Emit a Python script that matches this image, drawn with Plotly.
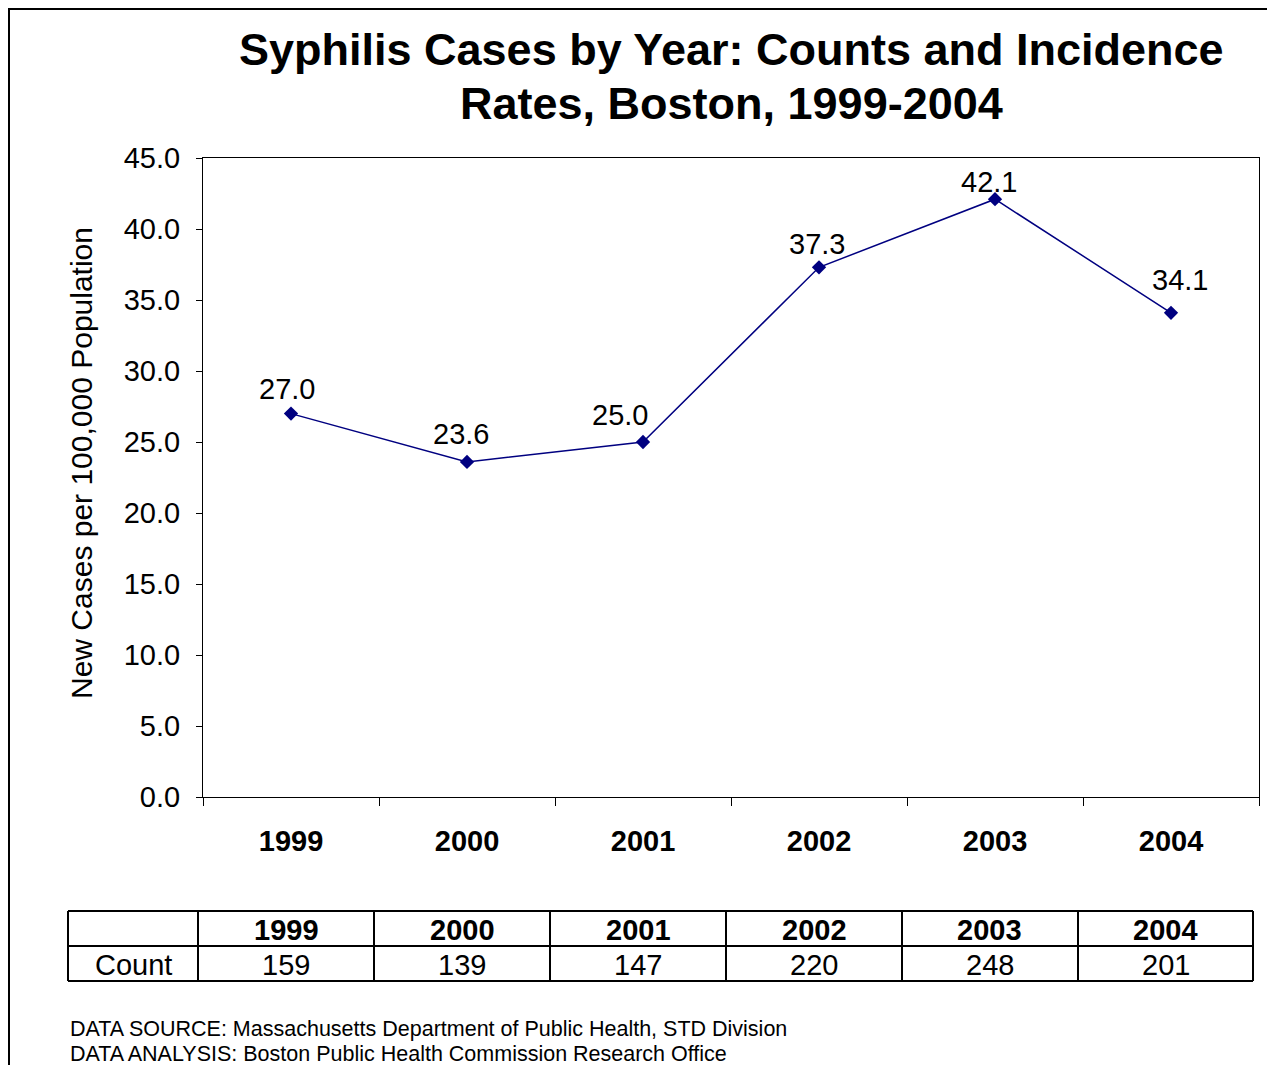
import plotly.graph_objects as go

years = ["1999", "2000", "2001", "2002", "2003", "2004"]
rates = [27.0, 23.6, 25.0, 37.3, 42.1, 34.1]
counts = [159, 139, 147, 220, 248, 201]
row_label = "Count"
title_lines = [
    "Syphilis Cases by Year: Counts and Incidence",
    "Rates, Boston, 1999-2004",
]
y_title = "New Cases per 100,000 Population"
footnotes = [
    "DATA SOURCE: Massachusetts Department of Public Health, STD Division",
    "DATA ANALYSIS: Boston Public Health Commission Research Office",
]

# style: pixel offsets of each data label from its marker (dx right, dy up)
label_dx = [-4, -6, -23, -2, -6, 9]
label_dy = [25, 28, 27, 23, 17, 33]

W, H = 1275, 1065
OFF = 8  # page body margin of the browser
FONT = "Arial, Liberation Sans, sans-serif"
NAVY = "#000080"


def px(x):
    return (x - OFF) / W


def py(y):
    return 1 - (y - OFF) / H


fig = go.Figure()
fig.add_trace(go.Scatter(
    x=years, y=rates,
    mode="lines+markers",
    line=dict(color=NAVY, width=1.5),
    marker=dict(symbol="diamond", size=11, color=NAVY),
    cliponaxis=False,
    showlegend=False,
))

shapes = []
annotations = []

# data labels (x given as category index on the category axis)
for i, v in enumerate(rates):
    annotations.append(dict(x=i, y=v, xref="x", yref="y", text=f"{v:.1f}",
                            showarrow=False, xanchor="center", yanchor="middle",
                            xshift=label_dx[i], yshift=label_dy[i],
                            font=dict(family=FONT, size=29, color="black")))

# outer frame
shapes.append(dict(type="rect", xref="paper", yref="paper",
                   x0=1 / W, x1=px(1300), y0=1 - 1 / H, y1=py(1100),
                   line=dict(color="black", width=2), layer="above"))

# table
col_edges = [68, 198, 374, 550, 726, 902, 1078, 1253]
row_edges = [911, 946, 981]
lw = 2
for xe in col_edges:
    shapes.append(dict(type="line", xref="paper", yref="paper",
                       x0=px(xe), x1=px(xe), y0=py(row_edges[0]), y1=py(row_edges[-1]),
                       line=dict(color="black", width=lw)))
for ye in row_edges:
    shapes.append(dict(type="line", xref="paper", yref="paper",
                       x0=px(col_edges[0]), x1=px(col_edges[-1]), y0=py(ye), y1=py(ye),
                       line=dict(color="black", width=lw)))

for i, yr in enumerate(years):
    cx = (col_edges[i + 1] + col_edges[i + 2]) / 2
    annotations.append(dict(x=px(cx), y=py((row_edges[0] + row_edges[1]) / 2 + 1),
                            xref="paper", yref="paper", text=f"<b>{yr}</b>",
                            showarrow=False, xanchor="center", yanchor="middle",
                            font=dict(family=FONT, size=29, color="black")))
    annotations.append(dict(x=px(cx), y=py((row_edges[1] + row_edges[2]) / 2 + 1),
                            xref="paper", yref="paper", text=str(counts[i]),
                            showarrow=False, xanchor="center", yanchor="middle",
                            font=dict(family=FONT, size=29, color="black")))
annotations.append(dict(x=px((col_edges[0] + col_edges[1]) / 2), y=py((row_edges[1] + row_edges[2]) / 2 + 1),
                        xref="paper", yref="paper", text=row_label,
                        showarrow=False, xanchor="center", yanchor="middle",
                        font=dict(family=FONT, size=29, color="black")))

# footnotes
for i, t in enumerate(footnotes):
    annotations.append(dict(x=px(68), y=py(1029 + 25 * i), xref="paper", yref="paper",
                            text=t, showarrow=False, xanchor="left", yanchor="middle",
                            font=dict(family=FONT, size=21.5, color="black")))

# title (two lines)
for i, t in enumerate(title_lines):
    annotations.append(dict(x=px(731), y=py(50 + 54 * i), xref="paper", yref="paper",
                            text=f"<b>{t}</b>", showarrow=False,
                            xanchor="center", yanchor="middle",
                            font=dict(family=FONT, size=45, color="black")))

# y title
annotations.append(dict(x=px(82), y=py(463), xref="paper", yref="paper",
                        text=y_title, textangle=-90, showarrow=False,
                        xanchor="center", yanchor="middle",
                        font=dict(family=FONT, size=30, color="black")))

fig.update_layout(
    width=W, height=H,
    margin=dict(l=0, r=0, t=0, b=0, autoexpand=False),
    paper_bgcolor="white", plot_bgcolor="white",
    font=dict(family=FONT, color="black"),
    xaxis=dict(type="category", domain=[px(203), px(1259)], range=[-0.5, 5.5],
               autorange=False, automargin=False,
               showline=True, linecolor="black", linewidth=1, mirror=True,
               ticks="outside", tickson="boundaries", ticklen=8, tickcolor="black",
               tickfont=dict(family=FONT, size=29, color="black"),
               ticklabelstandoff=18, showgrid=False, zeroline=False,
               tickprefix="<b>", ticksuffix="</b>"),
    yaxis=dict(domain=[py(797), py(158)], range=[0, 45], autorange=False,
               automargin=False, dtick=5, tick0=0,
               tickformat=".1f",
               showline=True, linecolor="black", linewidth=1, mirror=True,
               ticks="outside", ticklen=6, tickcolor="black",
               tickfont=dict(family=FONT, size=29, color="black"),
               ticklabelstandoff=10, showgrid=False, zeroline=False),
    shapes=shapes,
    annotations=annotations,
)

fig.write_html("out.html")
